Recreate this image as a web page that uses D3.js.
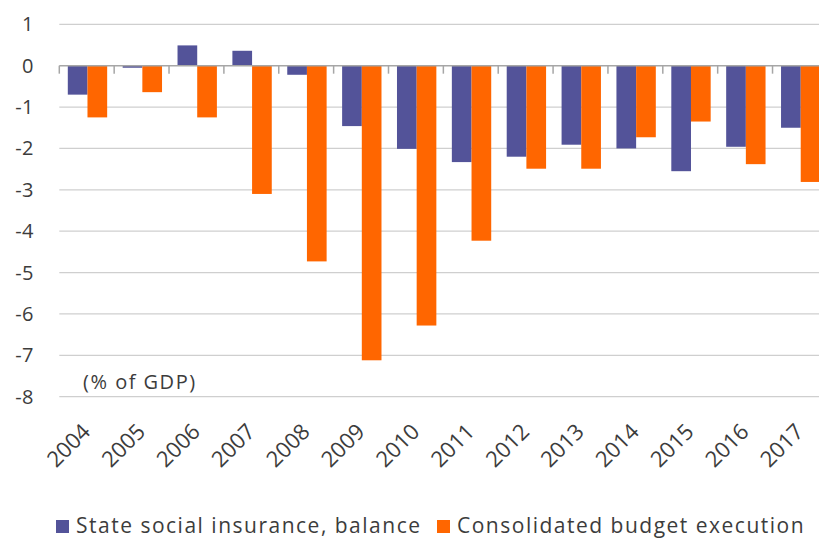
<!DOCTYPE html>
<html>
<head>
<meta charset="utf-8">
<script src="https://cdn.jsdelivr.net/npm/d3@7"></script>
<style>
  body { margin: 0; background: #fff; }
  svg { display: block; font-family: "Open Sans", sans-serif; }
</style>
</head>
<body>
<div id="chart"></div>
<script>
// data (% of GDP)
const years = ["2004", "2005", "2006", "2007", "2008", "2009", "2010",
               "2011", "2012", "2013", "2014", "2015", "2016", "2017"];
const seriesNames = ["State social insurance, balance", "Consolidated budget execution"];
const socialInsurance = [-0.70, -0.05, 0.49, 0.36, -0.22, -1.46, -2.01,
                         -2.33, -2.20, -1.91, -2.00, -2.55, -1.96, -1.50];
const budgetExecution = [-1.25, -0.64, -1.25, -3.10, -4.73, -7.12, -6.28,
                         -4.23, -2.49, -2.49, -1.73, -1.35, -2.38, -2.81];
const yTicks = [1, 0, -1, -2, -3, -4, -5, -6, -7, -8];

const colors = ["#535399", "#ff6600"];
const textColor = "#3c3c3c";

const width = 819, height = 538;

const svg = d3.select("#chart")
    .append("svg")
    .attr("width", width)
    .attr("height", height);

// the category axis runs past the right edge of the picture (it is cropped)
const x0 = d3.scaleBand()
    .domain(years)
    .range([59.3, 827.4]);

const step = x0.step();
const xSub = d3.scaleBand()
    .domain(seriesNames)
    .range([8.5, step - 7]);

const y = d3.scaleLinear()
    .domain([-8, 1])
    .range([396.7, 24.3]);

// gridlines
svg.append("g")
    .selectAll("line")
    .data(yTicks.filter(d => d !== 0))
    .join("line")
    .attr("x1", 59.3)
    .attr("x2", width)
    .attr("y1", d => y(d))
    .attr("y2", d => y(d))
    .attr("stroke", "#cfcfcf")
    .attr("stroke-width", 1.2);

// y labels
svg.append("g")
    .selectAll("text")
    .data(yTicks)
    .join("text")
    .attr("x", 34)
    .attr("y", d => y(d))
    .attr("dy", "0.35em")
    .attr("text-anchor", "end")
    .attr("fill", textColor)
    .style("font-size", "20px")
    .style("letter-spacing", "0.5px")
    .text(d => d);

// bars
const rows = years.map((yr, i) => ({
    year: yr,
    values: [
        { key: seriesNames[0], value: socialInsurance[i], color: colors[0] },
        { key: seriesNames[1], value: budgetExecution[i], color: colors[1] }
    ]
}));

svg.append("g")
    .selectAll("g")
    .data(rows)
    .join("g")
    .attr("transform", d => `translate(${x0(d.year)},0)`)
    .selectAll("rect")
    .data(d => d.values)
    .join("rect")
    .attr("x", d => xSub(d.key))
    .attr("width", xSub.bandwidth())
    .attr("y", d => y(Math.max(0, d.value)))
    .attr("height", d => Math.abs(y(d.value) - y(0)))
    .attr("fill", d => d.color);

// zero line with ticks at category boundaries
svg.append("line")
    .attr("x1", 59.3)
    .attr("x2", width)
    .attr("y1", y(0))
    .attr("y2", y(0))
    .attr("stroke", "#a6a6a6")
    .attr("stroke-width", 1.5);

svg.append("g")
    .selectAll("line")
    .data(years)
    .join("line")
    .attr("x1", d => x0(d))
    .attr("x2", d => x0(d))
    .attr("y1", y(0))
    .attr("y2", y(0) + 8)
    .attr("stroke", "#a6a6a6")
    .attr("stroke-width", 1.5);

// x labels, rotated
svg.append("g")
    .selectAll("text")
    .data(years)
    .join("text")
    .attr("transform", d => `translate(${x0(d) + step / 2 + 5},433) rotate(-45)`)
    .attr("text-anchor", "end")
    .attr("fill", textColor)
    .style("font-size", "22px")
    .text(d => d);

// unit note
svg.append("text")
    .attr("x", 83)
    .attr("y", 389)
    .attr("fill", textColor)
    .style("font-size", "20px")
    .style("letter-spacing", "1.5px")
    .text("(% of GDP)");

// legend
const legendX = [56, 437];
const legend = svg.append("g")
    .selectAll("g")
    .data(seriesNames)
    .join("g")
    .attr("transform", (d, i) => `translate(${legendX[i]},520)`);

legend.append("rect")
    .attr("width", 13)
    .attr("height", 13)
    .attr("fill", (d, i) => colors[i]);

legend.append("text")
    .attr("x", 20)
    .attr("y", 13)
    .attr("fill", textColor)
    .style("font-size", "21px")
    .style("letter-spacing", "1.5px")
    .text(d => d);
</script>
</body>
</html>
